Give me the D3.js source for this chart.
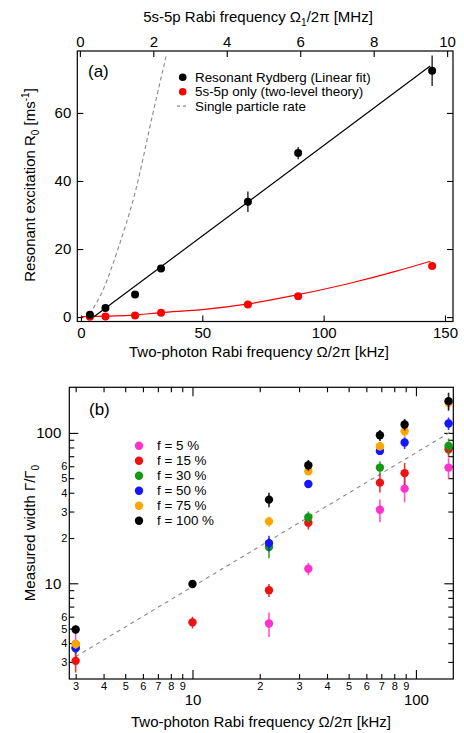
<!DOCTYPE html>
<html>
<head>
<meta charset="utf-8">
<script src="https://cdn.jsdelivr.net/npm/d3@7"></script>
<style>
  html, body { margin: 0; padding: 0; background: #fff; }
  svg { display: block; font-family: "Liberation Sans", Arial, Helvetica, sans-serif; }
  .box { fill: none; stroke: #000; stroke-width: 1.2px; }
  .axis path { display: none; }
  .axis line { stroke: #000; stroke-width: 1.1px; }
</style>
</head>
<body>
<svg id="chart" width="464" height="733"></svg>
<script>
// ---- panel (a) data ----
const rabiA = [3.7, 10.1, 22.3, 33, 68.8, 89.5, 144.7]
const rydbergRate = [0.65, 2.7, 6.6, 14.3, 33.9, 48.2, 72.4]
const rydbergErr = [0, 0, 0, 0, 3, 1.8, 4.5]
const twoLevelRate = [0.1, 0.15, 0.45, 1.3, 3.7, 6.1, 15.0]
const linearFit = [[5.2, 0], [143.9, 73.8]]
const twoLevelTheory = [[0, 0.15], [20, 0.5], [33, 1.3], [50, 2.2], [69, 3.9], [89.5, 6.6], [110, 9.8], [130, 13.5], [144, 16.4]]
const singleParticle = [[3.5, 0.9], [9, 7.8], [15.1, 19.7], [22.6, 37.4], [29.4, 59.1], [35.3, 77.3]]
const ticksA = { bottom: [0, 50, 100, 150], top: [0, 2, 4, 6, 8, 10], left: [0, 20, 40, 60] }

// ---- panel (b) data ----
const rabiB = [3, 10, 22, 33, 69, 89, 140]
const fillLabels = ['f = 5 %', 'f = 15 %', 'f = 30 %', 'f = 50 %', 'f = 75 %', 'f = 100 %']
const fillColors = ['#ff33cc', '#ee1111', '#159915', '#1515ff', '#ffa500', '#000000']
const widths = [
  [3.95, null, 5.4, 12.5, 30.8, 42.6, 58.8],
  [3.05, 5.5, 9.0, 25.3, 46.7, 54, 77.8],
  [3.7, null, 17.4, 27.5, 58.8, null, 81.9],
  [3.72, null, 18.5, 45.7, 75.9, 86.3, 115.5],
  [3.95, null, 25.8, 55.6, 81.5, 102.7, 158.5],
  [4.93, 9.9, 36, 61, 96.5, 113.8, 162.6]
]
const widthErrs = [
  [1.0, null, 1.0, 1.2, 5.3, 8, 9],
  [0.5, 0.5, 0.9, 2.5, 6.5, 9, 9],
  [0.3, null, 2.7, 2.5, 6, null, 10],
  [0.3, null, 2.2, 2, 4, 8, 11],
  [0.3, null, 2, 3, 5, 10, 14],
  [0.3, 0.5, 4, 5, 8, 10, 22]
]
const dashedB = [[3, 3.25], [147, 104]]
const ticksBx = [3, 4, 5, 6, 7, 8, 9, 10, 20, 30, 40, 50, 60, 70, 80, 90, 100]
const ticksBy = [3, 4, 5, 6, 7, 8, 9, 10, 20, 30, 40, 50, 60, 70, 80, 90, 100]
const unlabeledB = [7, 8, 9, 70, 80, 90]

const svg = d3.select('#chart')

// ================= panel (a) =================
const boxA = { left: 77.3, right: 453, top: 51, bottom: 321.5 }
const xA = d3.scaleLinear().domain([-1.5, 153.3]).range([boxA.left, boxA.right])
const xTopA = d3.scaleLinear().domain([-0.07, 10.16]).range([boxA.left, boxA.right])
const yA = d3.scaleLinear().domain([-1.3, 78.2]).range([boxA.bottom, boxA.top])

const gA = svg.append('g')

gA.append('g').attr('class', 'axis')
  .attr('transform', `translate(0,${boxA.bottom})`)
  .call(d3.axisBottom(xA).tickValues(ticksA.bottom).tickSizeInner(-6).tickSizeOuter(0).tickPadding(6))
gA.append('g').attr('class', 'axis')
  .attr('transform', `translate(0,${boxA.top})`)
  .call(d3.axisTop(xTopA).tickValues(ticksA.top).tickSizeInner(-6).tickSizeOuter(0).tickPadding(4))
gA.append('g').attr('class', 'axis')
  .attr('transform', `translate(${boxA.left},0)`)
  .call(d3.axisLeft(yA).tickValues(ticksA.left).tickSizeInner(-6).tickSizeOuter(0).tickPadding(6))
gA.append('g').attr('class', 'axis')
  .attr('transform', `translate(${boxA.right},0)`)
  .call(d3.axisRight(yA).tickValues(ticksA.left).tickSizeInner(-6).tickSizeOuter(0).tickFormat(''))
gA.selectAll('.axis text').attr('font-size', 15).attr('font-family', null).attr('fill', '#000')

const clipA = svg.append('clipPath').attr('id', 'clipA')
clipA.append('rect')
  .attr('x', boxA.left).attr('y', boxA.top)
  .attr('width', boxA.right - boxA.left).attr('height', boxA.bottom - boxA.top)

const plotA = gA.append('g').attr('clip-path', 'url(#clipA)')
const lineA = d3.line().x(d => xA(d[0])).y(d => yA(d[1]))

plotA.append('path').datum(singleParticle)
  .attr('d', lineA.curve(d3.curveMonotoneX))
  .attr('fill', 'none').attr('stroke', '#888').attr('stroke-width', 1.1).attr('stroke-dasharray', '4,3')
plotA.append('path').datum(twoLevelTheory)
  .attr('d', lineA.curve(d3.curveMonotoneX))
  .attr('fill', 'none').attr('stroke', '#ff0000').attr('stroke-width', 1.2)
plotA.append('path').datum(linearFit)
  .attr('d', lineA.curve(d3.curveLinear))
  .attr('fill', 'none').attr('stroke', '#000').attr('stroke-width', 1.2)

const rydberg = rabiA.map((x, i) => ({ x, y: rydbergRate[i], e: rydbergErr[i] }))
const twoLevel = rabiA.map((x, i) => ({ x, y: twoLevelRate[i] }))

plotA.selectAll('line.err')
  .data(rydberg.filter(d => d.e > 0))
  .enter()
  .append('line')
  .attr('class', 'err')
  .attr('x1', d => xA(d.x)).attr('x2', d => xA(d.x))
  .attr('y1', d => yA(d.y - d.e)).attr('y2', d => yA(d.y + d.e))
  .attr('stroke', '#000').attr('stroke-width', 1.2)
plotA.selectAll('circle.red')
  .data(twoLevel)
  .enter()
  .append('circle')
  .attr('class', 'red')
  .attr('cx', d => xA(d.x)).attr('cy', d => yA(d.y)).attr('r', 4)
  .attr('fill', '#ff0000')
plotA.selectAll('circle.black')
  .data(rydberg)
  .enter()
  .append('circle')
  .attr('class', 'black')
  .attr('cx', d => xA(d.x)).attr('cy', d => yA(d.y)).attr('r', 4)
  .attr('fill', '#000')

gA.append('rect').attr('class', 'box')
  .attr('x', boxA.left).attr('y', boxA.top)
  .attr('width', boxA.right - boxA.left).attr('height', boxA.bottom - boxA.top)

// legend (a)
const legA = gA.append('g').attr('font-size', 13.4)
const legAItems = [
  { label: 'Resonant Rydberg (Linear fit)', color: '#000', type: 'dot' },
  { label: '5s-5p only (two-level theory)', color: '#ff0000', type: 'dot' },
  { label: 'Single particle rate', color: '#888', type: 'dash' }
]
legAItems.forEach((d, i) => {
  const y = 77.3 + i * 14.4
  if (d.type === 'dot') {
    legA.append('circle').attr('cx', 182.7).attr('cy', y).attr('r', 3.8).attr('fill', d.color)
  } else {
    legA.append('line').attr('x1', 177).attr('x2', 189).attr('y1', y).attr('y2', y)
      .attr('stroke', d.color).attr('stroke-width', 1.1).attr('stroke-dasharray', '3,3')
  }
  legA.append('text').attr('x', 195).attr('y', y + 4.7).text(d.label)
})
gA.append('text').attr('x', 88).attr('y', 77).attr('font-size', 17).text('(a)')

// titles (a)
const topTitle = gA.append('text').attr('x', 258).attr('y', 22).attr('font-size', 15).attr('text-anchor', 'middle')
topTitle.append('tspan').text('5s-5p Rabi frequency Ω')
topTitle.append('tspan').attr('font-size', 10).attr('dy', 4).text('1')
topTitle.append('tspan').attr('dy', -4).text('/2π [MHz]')

gA.append('text').attr('x', 259).attr('y', 357).attr('font-size', 15).attr('text-anchor', 'middle')
  .text('Two-photon Rabi frequency Ω/2π [kHz]')

const yTitleA = gA.append('text').attr('transform', 'translate(35,185) rotate(-90)')
  .attr('font-size', 15).attr('text-anchor', 'middle')
yTitleA.append('tspan').text('Resonant excitation R')
yTitleA.append('tspan').attr('font-size', 10).attr('dy', 4).text('0')
yTitleA.append('tspan').attr('dy', -4).text(' [ms')
yTitleA.append('tspan').attr('font-size', 10).attr('dy', -6).text('-1')
yTitleA.append('tspan').attr('dy', 6).text(']')

// ================= panel (b) =================
const boxB = { left: 69.3, right: 453.3, top: 387.3, bottom: 679 }
const xB = d3.scaleLog().domain([2.81, 147]).range([boxB.left, boxB.right])
const yB = d3.scaleLog().domain([2.31, 201]).range([boxB.bottom, boxB.top])
const isMajor = v => v === 10 || v === 100
const digit = v => String(v / Math.pow(10, Math.floor(Math.log10(v) + 1e-9)))

const gB = svg.append('g')

function styleTicks (sel, axisName) {
  sel.selectAll('.tick line').each(function (v) {
    const len = isMajor(v) ? 9 : 5
    const line = d3.select(this)
    if (axisName === 'bottom') line.attr('y2', -len)
    if (axisName === 'top') line.attr('y2', len)
    if (axisName === 'left') line.attr('x2', len)
    if (axisName === 'right') line.attr('x2', -len)
  })
}

const axB = gB.append('g').attr('class', 'axis')
  .attr('transform', `translate(0,${boxB.bottom})`)
  .call(d3.axisBottom(xB).tickValues(ticksBx).tickSizeOuter(0).tickFormat(''))
styleTicks(axB, 'bottom')
axB.selectAll('.tick text')
  .attr('dy', null)
  .attr('fill', '#000')
  .attr('font-family', null)
  .attr('font-size', v => isMajor(v) ? 15 : 11)
  .attr('y', v => isMajor(v) ? 26 : 11)
  .text(v => isMajor(v) ? String(v) : digit(v))

const axT = gB.append('g').attr('class', 'axis')
  .attr('transform', `translate(0,${boxB.top})`)
  .call(d3.axisTop(xB).tickValues(ticksBx).tickSizeOuter(0).tickFormat(''))
styleTicks(axT, 'top')

const axL = gB.append('g').attr('class', 'axis')
  .attr('transform', `translate(${boxB.left},0)`)
  .call(d3.axisLeft(yB).tickValues(ticksBy).tickSizeOuter(0).tickFormat(''))
styleTicks(axL, 'left')
axL.selectAll('.tick text')
  .attr('fill', '#000')
  .attr('font-family', null)
  .attr('font-size', v => isMajor(v) ? 15 : 11)
  .attr('x', v => isMajor(v) ? -8 : -2)
  .text(v => unlabeledB.includes(v) ? '' : (isMajor(v) ? String(v) : digit(v)))

const axR = gB.append('g').attr('class', 'axis')
  .attr('transform', `translate(${boxB.right},0)`)
  .call(d3.axisRight(yB).tickValues(ticksBy).tickSizeOuter(0).tickFormat(''))
styleTicks(axR, 'right')

const clipB = svg.append('clipPath').attr('id', 'clipB')
clipB.append('rect')
  .attr('x', boxB.left).attr('y', boxB.top)
  .attr('width', boxB.right - boxB.left).attr('height', boxB.bottom - boxB.top)

const plotB = gB.append('g').attr('clip-path', 'url(#clipB)')

plotB.append('path').datum(dashedB)
  .attr('d', d3.line().x(d => xB(d[0])).y(d => yB(d[1])))
  .attr('fill', 'none').attr('stroke', '#888').attr('stroke-width', 1.1).attr('stroke-dasharray', '4,4')

widths.forEach((series, s) => {
  const pts = series
    .map((y, i) => ({ x: rabiB[i], y, e: widthErrs[s][i] }))
    .filter(d => d.y !== null)
  const g = plotB.append('g')
  g.selectAll('line')
    .data(pts)
    .enter()
    .append('line')
    .attr('x1', d => xB(d.x)).attr('x2', d => xB(d.x))
    .attr('y1', d => yB(d.y - d.e)).attr('y2', d => yB(d.y + d.e))
    .attr('stroke', fillColors[s]).attr('stroke-width', 1.6).attr('stroke-opacity', 0.85)
  g.selectAll('circle')
    .data(pts)
    .enter()
    .append('circle')
    .attr('cx', d => xB(d.x)).attr('cy', d => yB(d.y)).attr('r', 4.2)
    .attr('fill', fillColors[s])
})

gB.append('rect').attr('class', 'box')
  .attr('x', boxB.left).attr('y', boxB.top)
  .attr('width', boxB.right - boxB.left).attr('height', boxB.bottom - boxB.top)

// legend (b)
const legB = gB.append('g').attr('font-size', 13.4)
fillLabels.forEach((label, i) => {
  const y = 445.7 + i * 15
  legB.append('circle').attr('cx', 139).attr('cy', y).attr('r', 4.2).attr('fill', fillColors[i])
  legB.append('text').attr('x', 157).attr('y', y + 4.7).text(label)
})
gB.append('text').attr('x', 89).attr('y', 415).attr('font-size', 17).text('(b)')

gB.append('text').attr('x', 261).attr('y', 727).attr('font-size', 15).attr('text-anchor', 'middle')
  .text('Two-photon Rabi frequency Ω/2π [kHz]')

const yTitleB = gB.append('text').attr('transform', 'translate(35,533) rotate(-90)')
  .attr('font-size', 15).attr('text-anchor', 'middle')
yTitleB.append('tspan').text('Measured width Γ/Γ')
yTitleB.append('tspan').attr('font-size', 10).attr('dy', 4).text('0')
</script>
</body>
</html>
